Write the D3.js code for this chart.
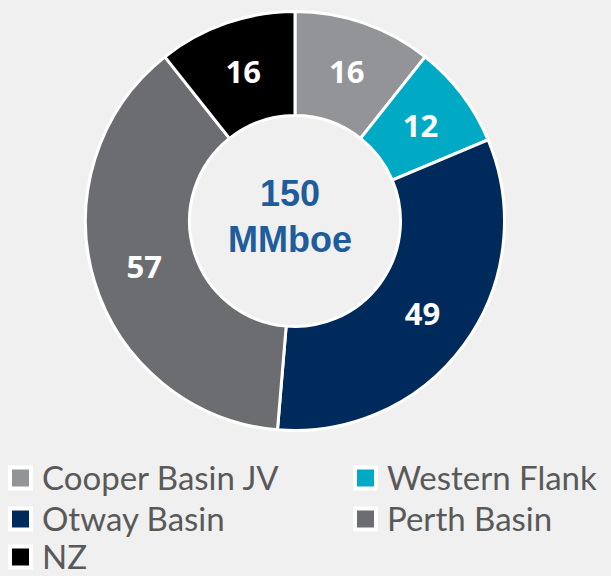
<!DOCTYPE html>
<html>
<head>
<meta charset="utf-8">
<script src="https://cdn.jsdelivr.net/npm/d3@7"></script>
<style>
  body { margin: 0; background: #f0f0f0; }
  svg { display: block; }
</style>
</head>
<body>
<div id="main"></div>
<script>
const ctx = {
    w: 611,
    h: 576,
    cx: 295,
    cy: 221,
};

// chart data
const categories = ["Cooper Basin JV", "Western Flank", "Otway Basin", "Perth Basin", "NZ"];
const values = [16, 12, 49, 57, 16];
const colors = ["#939498", "#00a9c4", "#002a5c", "#6c6d71", "#000000"];
const centerLines = ["150", "MMboe"];

function createDonut(svg) {
    let pie = d3.pie().sort(null).value(d => d.value);
    let arc = d3.arc().innerRadius(105.5).outerRadius(209.5);

    let data = categories.map((c, i) => ({name: c, value: values[i], color: colors[i]}));
    let g = svg.append("g")
               .attr("transform", `translate(${ctx.cx},${ctx.cy})`);

    let slices = g.selectAll("g.slice")
                  .data(pie(data))
                  .enter().append("g")
                  .classed("slice", true);

    slices.append("path")
          .attr("d", arc)
          .attr("fill", d => d.data.color)
          .attr("stroke", "#ffffff")
          .attr("stroke-width", 3)
          .attr("stroke-linejoin", "miter");

    // value labels at the centroid
    slices.append("text")
          .attr("transform", d => `translate(${arc.centroid(d)})`)
          .attr("text-anchor", "middle")
          .attr("dy", "0.36em")
          .style("font-family", "'Open Sans', sans-serif")
          .style("font-weight", "bold")
          .style("font-size", "31px")
          .style("fill", "#ffffff")
          .text(d => d.data.value);

    // total in the hole
    g.append("text")
     .attr("text-anchor", "middle")
     .style("font-family", "'Liberation Sans', Arial, sans-serif")
     .style("font-weight", "bold")
     .style("font-size", "36px")
     .style("fill", "#1f5c9c")
     .selectAll("tspan")
     .data(centerLines)
     .enter().append("tspan")
     .attr("x", -5)
     .attr("y", (d, i) => -15 + i * 46)
     .text(d => d);
}

function createLegend(svg) {
    let cols = [8, 353];
    let rowY = [478, 519, 557];
    let items = svg.append("g").selectAll("g")
                   .data(categories)
                   .enter().append("g")
                   .attr("transform", (d, i) => `translate(${cols[i % 2]},${rowY[Math.floor(i / 2)]})`);

    items.append("rect")
         .attr("x", 2).attr("y", -10.5)
         .attr("width", 21).attr("height", 21)
         .attr("fill", (d, i) => colors[i])
         .attr("stroke", "#ffffff")
         .attr("stroke-width", 4);

    items.append("text")
         .attr("x", 34)
         .attr("dy", "0.35em")
         .style("font-family", "Lato, sans-serif")
         .style("font-size", "33px")
         .style("fill", "#595959")
         .text(d => d);
}

function createViz() {
    let svgEl = d3.select("#main").append("svg")
                  .attr("width", ctx.w)
                  .attr("height", ctx.h);
    svgEl.append("rect").attr("width", ctx.w).attr("height", ctx.h).attr("fill", "#f0f0f0");
    createDonut(svgEl);
    createLegend(svgEl);
}

createViz();
</script>
</body>
</html>
